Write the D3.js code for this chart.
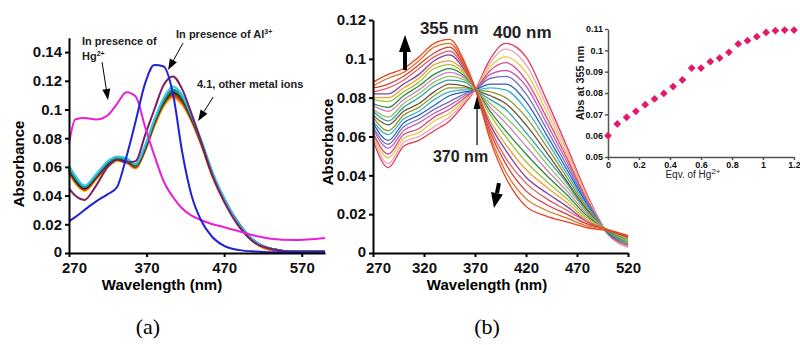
<!DOCTYPE html>
<html>
<head>
<meta charset="utf-8">
<script src="https://cdn.jsdelivr.net/npm/d3@7"></script>
<style>
  body { margin: 0; background: #fff; }
  svg text { font-family: Arial, "Liberation Sans", sans-serif; }
  svg text.letter { font-family: "Times New Roman", "Liberation Serif", serif; }
</style>
</head>
<body>
<svg id="chart" width="800" height="345"></svg>
<script>
// ---- panel (a): selectivity spectra ----
const waveA = [270, 278, 290, 305, 320, 332, 344, 356, 368, 380, 392, 404, 416, 428, 440, 455, 470, 490, 510, 530, 560, 600]
const absHg = [0.076, 0.093, 0.094, 0.093, 0.096, 0.104, 0.112, 0.109, 0.088, 0.068, 0.050, 0.039, 0.031, 0.026, 0.023, 0.020, 0.018, 0.015, 0.012, 0.010, 0.009, 0.0105]
const absAl = [0.022, 0.025, 0.030, 0.036, 0.041, 0.046, 0.067, 0.092, 0.118, 0.131, 0.130, 0.111, 0.070, 0.040, 0.023, 0.011, 0.005, 0.002, 0.001, 0.0005, 0.0005, 0.0005]
const absPurple = [0.045, 0.040, 0.037, 0.047, 0.060, 0.065, 0.063, 0.064, 0.082, 0.100, 0.117, 0.123, 0.114, 0.097, 0.078, 0.054, 0.036, 0.018, 0.007, 0.003, 0.001, 0.001]
const absOthers = [
  [0.056, 0.049, 0.043, 0.051, 0.060, 0.064, 0.063, 0.059, 0.071, 0.088, 0.102, 0.108, 0.103, 0.092, 0.076, 0.053, 0.036, 0.018, 0.007, 0.002, 0.001, 0.001],
  [0.056, 0.049, 0.044, 0.052, 0.061, 0.065, 0.063, 0.059, 0.071, 0.089, 0.103, 0.109, 0.104, 0.092, 0.076, 0.053, 0.036, 0.018, 0.007, 0.002, 0.001, 0.001],
  [0.057, 0.050, 0.044, 0.052, 0.061, 0.065, 0.064, 0.060, 0.072, 0.090, 0.104, 0.110, 0.105, 0.093, 0.077, 0.054, 0.036, 0.018, 0.007, 0.003, 0.001, 0.001],
  [0.058, 0.050, 0.045, 0.053, 0.062, 0.065, 0.064, 0.060, 0.072, 0.090, 0.104, 0.111, 0.106, 0.093, 0.077, 0.054, 0.037, 0.019, 0.008, 0.003, 0.001, 0.001],
  [0.058, 0.051, 0.045, 0.053, 0.062, 0.066, 0.064, 0.061, 0.073, 0.091, 0.105, 0.112, 0.107, 0.094, 0.078, 0.055, 0.037, 0.019, 0.008, 0.003, 0.001, 0.001],
  [0.059, 0.052, 0.046, 0.054, 0.063, 0.066, 0.065, 0.061, 0.074, 0.092, 0.106, 0.113, 0.108, 0.095, 0.078, 0.055, 0.038, 0.019, 0.008, 0.003, 0.001, 0.001],
  [0.060, 0.053, 0.046, 0.054, 0.063, 0.067, 0.065, 0.062, 0.074, 0.092, 0.107, 0.114, 0.109, 0.095, 0.079, 0.056, 0.038, 0.020, 0.008, 0.003, 0.001, 0.001],
  [0.061, 0.054, 0.047, 0.055, 0.064, 0.067, 0.066, 0.062, 0.075, 0.093, 0.108, 0.116, 0.110, 0.096, 0.079, 0.056, 0.038, 0.019, 0.008, 0.003, 0.001, 0.001]
]
const otherColors = ['#f2c21a', '#f07a1c', '#e0321e', '#8b4a1a', '#1e1e1e', '#2a8a3a', '#1f8e9e', '#34c8e6']
const ticksXA = [270, 370, 470, 570]
const ticksYA = [0, 0.02, 0.04, 0.06, 0.08, 0.1, 0.12, 0.14]

// ---- panel (b): titration spectra ----
const waveB = [270, 285, 300, 315, 330, 345, 360, 370, 385, 400, 420, 440, 460, 480, 500, 520]
const titration = [
  [0.058, 0.044, 0.055, 0.058, 0.063, 0.068, 0.077, 0.084, 0.100, 0.108, 0.101, 0.079, 0.055, 0.030, 0.010, 0.003],
  [0.060, 0.046, 0.057, 0.060, 0.065, 0.070, 0.078, 0.084, 0.098, 0.105, 0.097, 0.076, 0.053, 0.029, 0.010, 0.003],
  [0.061, 0.049, 0.059, 0.062, 0.068, 0.072, 0.079, 0.084, 0.096, 0.101, 0.093, 0.073, 0.051, 0.028, 0.010, 0.004],
  [0.062, 0.051, 0.061, 0.064, 0.070, 0.074, 0.080, 0.084, 0.094, 0.098, 0.089, 0.070, 0.049, 0.027, 0.010, 0.004],
  [0.064, 0.054, 0.063, 0.067, 0.072, 0.076, 0.081, 0.084, 0.092, 0.094, 0.086, 0.067, 0.047, 0.027, 0.0105, 0.004],
  [0.065, 0.056, 0.065, 0.069, 0.074, 0.078, 0.082, 0.084, 0.090, 0.091, 0.082, 0.064, 0.045, 0.026, 0.0105, 0.004],
  [0.067, 0.058, 0.067, 0.071, 0.076, 0.081, 0.083, 0.084, 0.087, 0.087, 0.078, 0.061, 0.043, 0.025, 0.0105, 0.005],
  [0.068, 0.061, 0.069, 0.073, 0.079, 0.083, 0.084, 0.084, 0.085, 0.084, 0.074, 0.058, 0.041, 0.024, 0.011, 0.005],
  [0.070, 0.063, 0.071, 0.075, 0.081, 0.085, 0.085, 0.084, 0.083, 0.080, 0.070, 0.055, 0.039, 0.023, 0.011, 0.005],
  [0.071, 0.066, 0.073, 0.077, 0.083, 0.087, 0.086, 0.084, 0.081, 0.077, 0.066, 0.052, 0.037, 0.022, 0.011, 0.006],
  [0.073, 0.068, 0.075, 0.080, 0.086, 0.089, 0.088, 0.084, 0.079, 0.074, 0.062, 0.049, 0.036, 0.021, 0.011, 0.006],
  [0.074, 0.070, 0.077, 0.082, 0.088, 0.091, 0.089, 0.084, 0.077, 0.070, 0.059, 0.046, 0.034, 0.021, 0.0115, 0.006],
  [0.076, 0.073, 0.079, 0.084, 0.090, 0.093, 0.090, 0.085, 0.075, 0.067, 0.055, 0.043, 0.032, 0.020, 0.0115, 0.007],
  [0.077, 0.075, 0.081, 0.086, 0.092, 0.095, 0.091, 0.085, 0.073, 0.063, 0.051, 0.040, 0.030, 0.019, 0.0115, 0.007],
  [0.079, 0.078, 0.083, 0.088, 0.095, 0.097, 0.092, 0.085, 0.071, 0.060, 0.047, 0.037, 0.028, 0.018, 0.012, 0.007],
  [0.080, 0.080, 0.085, 0.090, 0.097, 0.099, 0.093, 0.085, 0.068, 0.056, 0.043, 0.034, 0.026, 0.017, 0.012, 0.008],
  [0.082, 0.082, 0.087, 0.092, 0.099, 0.102, 0.094, 0.085, 0.066, 0.053, 0.039, 0.031, 0.024, 0.016, 0.012, 0.008],
  [0.083, 0.085, 0.089, 0.095, 0.101, 0.104, 0.095, 0.085, 0.064, 0.049, 0.036, 0.028, 0.022, 0.016, 0.012, 0.008],
  [0.085, 0.087, 0.091, 0.097, 0.103, 0.106, 0.096, 0.085, 0.062, 0.046, 0.032, 0.025, 0.020, 0.015, 0.012, 0.008],
  [0.086, 0.090, 0.093, 0.099, 0.106, 0.108, 0.097, 0.085, 0.060, 0.042, 0.028, 0.022, 0.018, 0.014, 0.012, 0.009],
  [0.088, 0.092, 0.095, 0.101, 0.108, 0.110, 0.098, 0.085, 0.058, 0.039, 0.024, 0.019, 0.016, 0.013, 0.0115, 0.009]
]
const titrationColors = ['#e23a5a', '#f0a0b8', '#e6cc3c', '#d84a8a', '#c060b0', '#7070c0', '#3060b0', '#40b0d0', '#8a9a30', '#705030',
  '#30a0a0', '#90c060', '#d080c0', '#2a8a3a', '#a0c040', '#f0a030', '#8040a0', '#e06060', '#d04040', '#e07020', '#e84020']
const ticksXB = [270, 320, 370, 420, 470, 520]
const ticksYB = [0, 0.02, 0.04, 0.06, 0.08, 0.1, 0.12]

// ---- inset: Abs at 355 nm vs equivalents ----
const eqvHg = [0, 0.06, 0.12, 0.18, 0.24, 0.3, 0.36, 0.42, 0.48, 0.54, 0.6, 0.66, 0.72, 0.78, 0.84, 0.9, 0.96, 1.02, 1.08, 1.14, 1.2]
const abs355 = [0.060, 0.0655, 0.0686, 0.0714, 0.0745, 0.0772, 0.0798, 0.0830, 0.0861, 0.0917, 0.0917, 0.0947, 0.0964, 0.0991, 0.1030, 0.1045, 0.1064, 0.1084, 0.1092, 0.1095, 0.1095]
const ticksXI = [0, 0.2, 0.4, 0.6, 0.8, 1, 1.2]
const ticksYI = [0.05, 0.06, 0.07, 0.08, 0.09, 0.1, 0.11]

const svg = d3.select('#chart')
const fmt = d => String(+d.toFixed(2))

function styleAxis(g, fontSize, bold, color, width) {
  g.attr('font-size', fontSize)
  g.select('.domain').attr('stroke', color).attr('stroke-width', width)
  g.selectAll('.tick line').attr('stroke', color).attr('stroke-width', width)
  g.selectAll('.tick text').attr('fill', '#111').attr('font-weight', bold ? 'bold' : 'normal')
}

function arrow(g, x1, y1, x2, y2, headLen, headW, shaftW) {
  const ang = Math.atan2(y2 - y1, x2 - x1)
  const bx = x2 - headLen * Math.cos(ang)
  const by = y2 - headLen * Math.sin(ang)
  g.append('line')
    .attr('x1', x1).attr('y1', y1).attr('x2', bx).attr('y2', by)
    .attr('stroke', '#000').attr('stroke-width', shaftW)
  const px = -Math.sin(ang) * headW / 2
  const py = Math.cos(ang) * headW / 2
  g.append('path')
    .attr('d', `M${x2},${y2}L${bx + px},${by + py}L${bx - px},${by - py}Z`)
    .attr('fill', '#000')
}

// ================= panel (a) =================
const xA = d3.scaleLinear().domain([270, 600]).range([69, 325])
const yA = d3.scaleLinear().domain([0, 0.15]).range([253, 37.75])
const gA = svg.append('g')

const lineA = d3.line().x((d, i) => xA(waveA[i])).y(d => yA(d)).curve(d3.curveMonotoneX)

absOthers.forEach((s, i) => {
  gA.append('path').attr('d', lineA(s)).attr('fill', 'none')
    .attr('stroke', otherColors[i]).attr('stroke-width', 2)
})
gA.append('path').attr('d', lineA(absPurple)).attr('fill', 'none').attr('stroke', '#7a1f66').attr('stroke-width', 2)
gA.append('path').attr('d', lineA(absHg)).attr('fill', 'none').attr('stroke', '#e81ed8').attr('stroke-width', 2)
gA.append('path').attr('d', lineA(absAl)).attr('fill', 'none').attr('stroke', '#2121d6').attr('stroke-width', 2)

gA.append('g').attr('transform', 'translate(0,253)')
  .call(d3.axisBottom(xA).tickValues(ticksXA).tickSize(4).tickPadding(5).tickSizeOuter(0))
  .call(g => styleAxis(g, 15, true, '#000', 2))
  .call(g => g.selectAll('.tick text').filter(d => d === 270).attr('dx', 5))
gA.append('g').attr('transform', 'translate(69,0)')
  .call(d3.axisLeft(yA).tickValues(ticksYA).tickFormat(fmt).tickSize(4).tickPadding(3).tickSizeOuter(0))
  .call(g => styleAxis(g, 15, true, '#000', 2))
  .call(g => g.selectAll('.tick text').filter(d => d === 0).attr('dy', '0.2em'))

gA.append('text').attr('x', 162).attr('y', 290).attr('text-anchor', 'middle')
  .attr('font-size', 15).attr('font-weight', 'bold').text('Wavelength (nm)')
gA.append('text').attr('transform', 'translate(24,164) rotate(-90)').attr('text-anchor', 'middle')
  .attr('font-size', 15).attr('font-weight', 'bold').text('Absorbance')

// annotations (a)
const t1 = gA.append('text').attr('x', xA(286.8)).attr('y', yA(0.145)).attr('font-size', 11).attr('font-weight', 'bold').attr('fill', '#222')
t1.text('In presence of')
const t2 = gA.append('text').attr('x', xA(286.8)).attr('y', yA(0.1345)).attr('font-size', 11).attr('font-weight', 'bold').attr('fill', '#222')
t2.append('tspan').text('Hg')
t2.append('tspan').attr('dy', -4).attr('font-size', 7).text('2+')
arrow(gA, xA(312.6), yA(0.133), xA(320.3), yA(0.1066), 11, 8, 1)

const t3 = gA.append('text').attr('x', xA(408)).attr('y', yA(0.1498)).attr('font-size', 11).attr('font-weight', 'bold').attr('fill', '#222')
t3.append('tspan').text('In presence of Al')
t3.append('tspan').attr('dy', -4).attr('font-size', 7).text('3+')
arrow(gA, xA(417), yA(0.1463), xA(397.7), yA(0.1275), 11, 8, 1)

gA.append('text').attr('x', xA(435)).attr('y', yA(0.115)).attr('font-size', 11).attr('font-weight', 'bold').attr('fill', '#222')
  .text('4.1, other metal ions')
arrow(gA, xA(455.8), yA(0.1087), xA(436.5), yA(0.092), 11, 8, 1)

// ================= panel (b) =================
const xB = d3.scaleLinear().domain([270, 520]).range([373, 628])
const yB = d3.scaleLinear().domain([0, 0.12]).range([253, 20])
const gB = svg.append('g')
const lineB = d3.line().x((d, i) => xB(waveB[i])).y(d => yB(d)).curve(d3.curveMonotoneX)

titration.forEach((s, i) => {
  gB.append('path').attr('d', lineB(s)).attr('fill', 'none')
    .attr('stroke', titrationColors[i]).attr('stroke-width', 1.3)
})

gB.append('g').attr('transform', 'translate(0,253)')
  .call(d3.axisBottom(xB).tickValues(ticksXB).tickSize(4).tickPadding(5).tickSizeOuter(0))
  .call(g => styleAxis(g, 15, true, '#000', 2))
  .call(g => g.selectAll('.tick text').filter(d => d === 270).attr('dx', 5))
gB.append('g').attr('transform', 'translate(373,0)')
  .call(d3.axisLeft(yB).tickValues(ticksYB).tickFormat(fmt).tickSize(4).tickPadding(3).tickSizeOuter(0))
  .call(g => styleAxis(g, 15, true, '#000', 2))
  .call(g => g.selectAll('.tick text').filter(d => d === 0).attr('dy', '0.2em'))

gB.append('text').attr('x', 487).attr('y', 290).attr('text-anchor', 'middle')
  .attr('font-size', 15).attr('font-weight', 'bold').text('Wavelength (nm)')
gB.append('text').attr('transform', 'translate(333,142) rotate(-90)').attr('text-anchor', 'middle')
  .attr('font-size', 15).attr('font-weight', 'bold').text('Absorbance')

// annotations (b)
gB.append('text').attr('x', xB(316)).attr('y', yB(0.1128)).attr('font-size', 17).attr('font-weight', 'bold').attr('fill', '#222').text('355 nm')
gB.append('text').attr('x', xB(387.6)).attr('y', yB(0.1107)).attr('font-size', 17).attr('font-weight', 'bold').attr('fill', '#222').text('400 nm')
gB.append('text').attr('x', xB(328.8)).attr('y', yB(0.0469)).attr('font-size', 16).attr('font-weight', 'bold').attr('fill', '#222').text('370 nm')
arrow(gB, xB(301.4), yB(0.0942), xB(301.4), yB(0.1123), 17, 12, 4)
arrow(gB, xB(393.5), yB(0.036), xB(388.6), yB(0.0232), 15, 12, 4)
arrow(gB, xB(372), yB(0.0556), xB(372), yB(0.0809), 13, 7, 1.2)

// ================= inset =================
const xI = d3.scaleLinear().domain([0, 1.2]).range([608, 794])
const yI = d3.scaleLinear().domain([0.05, 0.11]).range([157, 29])
const gI = svg.append('g')

gI.append('g').attr('transform', 'translate(0,157)')
  .call(d3.axisBottom(xI).tickValues(ticksXI).tickFormat(fmt).tickSize(3).tickPadding(2).tickSizeOuter(0))
  .call(g => styleAxis(g, 9, true, '#555', 1.5))
gI.append('g').attr('transform', 'translate(608,0)')
  .call(d3.axisLeft(yI).tickValues(ticksYI).tickFormat(fmt).tickSize(3).tickPadding(2).tickSizeOuter(0))
  .call(g => styleAxis(g, 9, true, '#555', 1.5))

const diamond = d3.symbol().type(d3.symbolSquare).size(30)
gI.selectAll('path.pt').data(abs355).enter().append('path')
  .attr('class', 'pt')
  .attr('d', diamond)
  .attr('transform', (d, i) => `translate(${xI(eqvHg[i])},${yI(d)}) rotate(45)`)
  .attr('fill', '#e3186c')

const ti = gI.append('text').attr('x', 693).attr('y', 178).attr('text-anchor', 'middle')
  .attr('font-size', 10).attr('fill', '#222')
ti.append('tspan').text('Eqv. of Hg')
ti.append('tspan').attr('dy', -4).attr('font-size', 8).text('2+')
gI.append('text').attr('transform', 'translate(584,83) rotate(-90)').attr('text-anchor', 'middle')
  .attr('font-size', 11).attr('font-weight', 'bold').attr('fill', '#222').text('Abs at 355 nm')

// ================= panel letters =================
svg.append('text').attr('class', 'letter').attr('x', 148).attr('y', 334).attr('text-anchor', 'middle')
  .attr('font-size', 22).text('(a)')
svg.append('text').attr('class', 'letter').attr('x', 487).attr('y', 334).attr('text-anchor', 'middle')
  .attr('font-size', 22).text('(b)')
</script>
</body>
</html>
